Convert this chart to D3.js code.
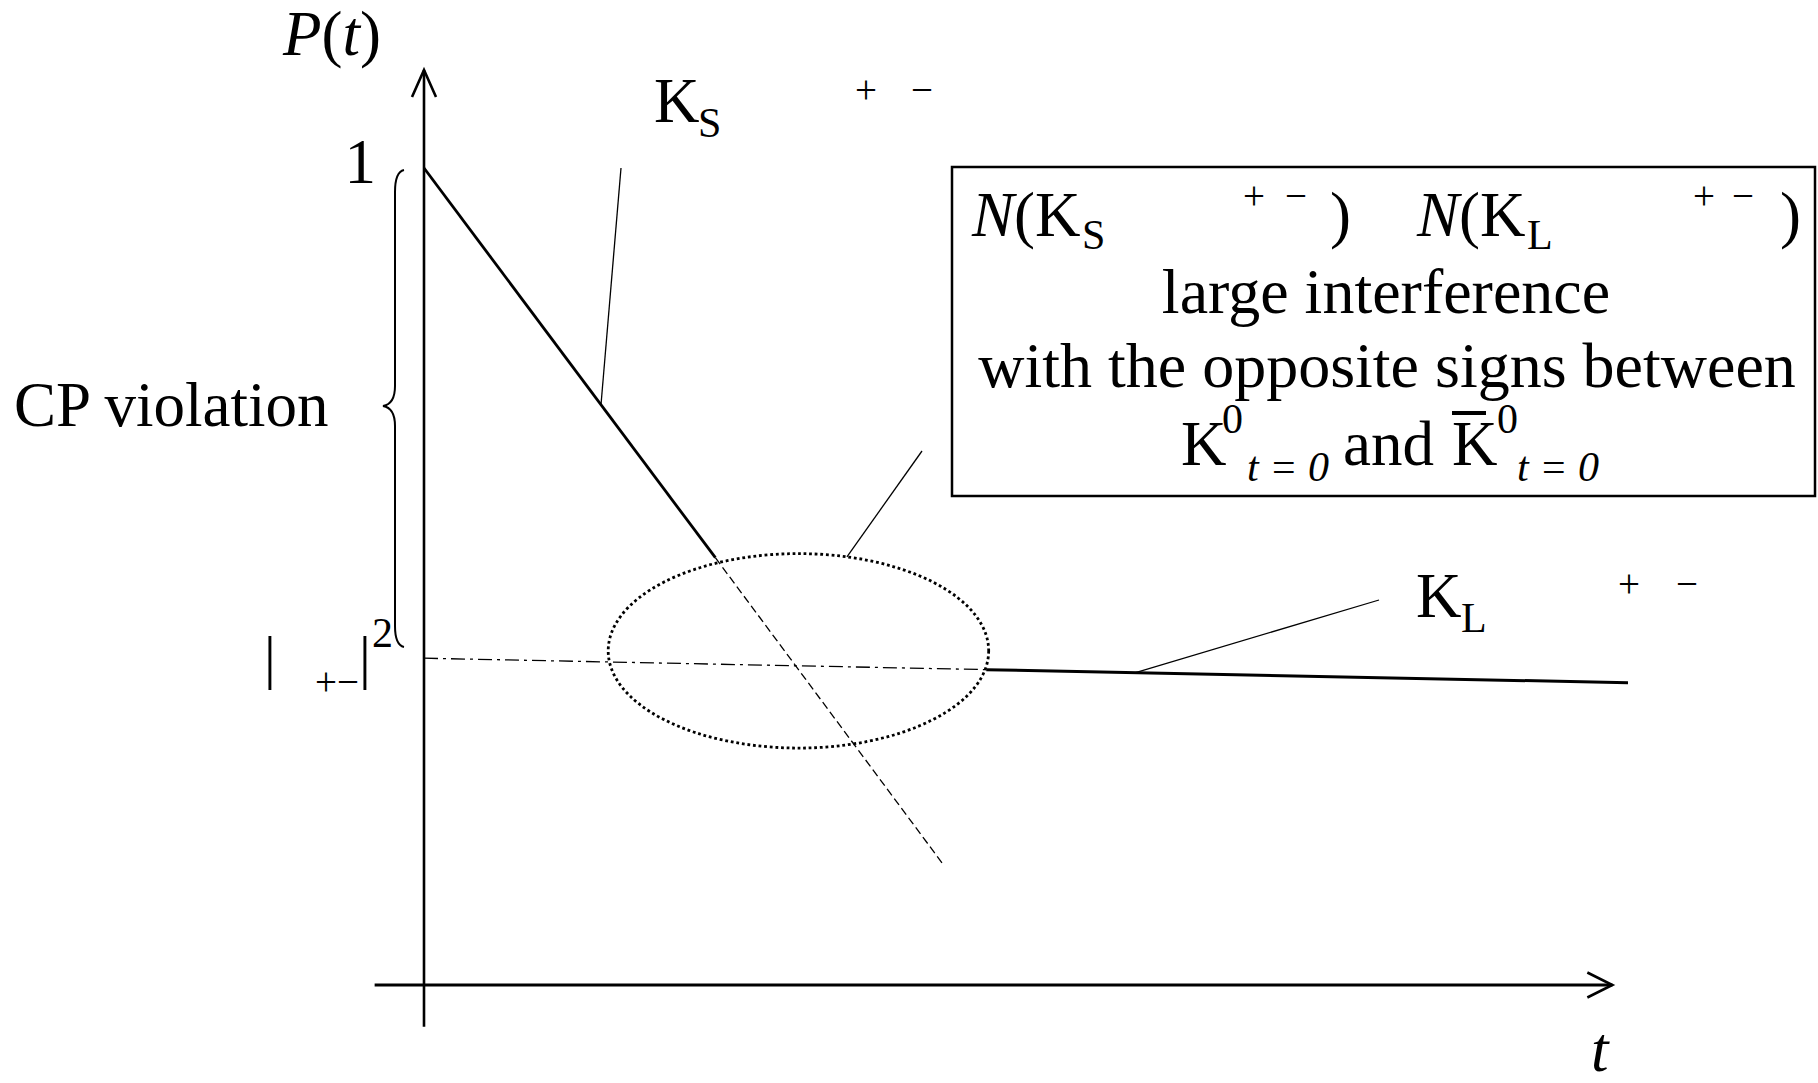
<!DOCTYPE html>
<html>
<head>
<meta charset="utf-8">
<script src="https://cdn.jsdelivr.net/npm/d3@7"></script>
<style>
  html, body { margin: 0; background: #fff; }
  svg { display: block; }
  text { font-family: "Liberation Serif", "Times New Roman", serif; fill: #000; }
</style>
</head>
<body>
<svg id="chart" width="1818" height="1083"></svg>
<script>
// K_S decay: solid while it dominates, dashed once it falls below K_L
const ksSolidT = [0, 2.42];
const ksSolidP = [1, 0.523];
const ksDashT  = [2.42, 4.31];
const ksDashP  = [0.523, 0.148];
// K_L decay: dash-dot through the interference region, solid afterwards
const klDashT  = [0, 4.67];
const klDashP  = [0.400, 0.386];
const klSolidT = [4.67, 10];
const klSolidP = [0.386, 0.370];
// tick on the P axis
const yTickValues = [1];
const yTickLabels = ["1"];
// interference region (centre and half-widths in t and P)
const interferenceCenter = [3.11, 0.409];
const interferenceRadius = [1.58, 0.119];

const svg = d3.select("#chart");
const x = d3.scaleLinear().domain([0, 10]).range([424, 1628]);
const y = d3.scaleLinear().domain([0, 1]).range([985, 168]);

const pts = (ts, ps) => ts.map((t, i) => [t, ps[i]]);
const line = d3.line().x(d => x(d[0])).y(d => y(d[1]));

// ---- axes with open arrowheads ----
const axisW = 2.6;
const xA0 = x(-0.41), xA1 = x(9.87), yA0 = y(-0.051), yA1 = y(1.12);
svg.append("line").attr("x1", xA0).attr("x2", xA1).attr("y1", y(0)).attr("y2", y(0))
  .attr("stroke", "#000").attr("stroke-width", 3);
svg.append("path").attr("d", `M${xA1 - 25},${y(0) - 12.5} L${xA1},${y(0)} L${xA1 - 25},${y(0) + 12.5}`)
  .attr("fill", "none").attr("stroke", "#000").attr("stroke-width", axisW);
svg.append("line").attr("x1", x(0)).attr("x2", x(0)).attr("y1", yA0).attr("y2", yA1)
  .attr("stroke", "#000").attr("stroke-width", axisW);
svg.append("path").attr("d", `M${x(0) - 12},${yA1 + 27} L${x(0)},${yA1} L${x(0) + 12},${yA1 + 27}`)
  .attr("fill", "none").attr("stroke", "#000").attr("stroke-width", axisW);

// ---- decay curves ----
svg.append("path").attr("d", line(pts(ksSolidT, ksSolidP)))
  .attr("fill", "none").attr("stroke", "#000").attr("stroke-width", 2.8);
svg.append("path").attr("d", line(pts(ksDashT, ksDashP)))
  .attr("fill", "none").attr("stroke", "#000").attr("stroke-width", 1.3)
  .attr("stroke-dasharray", "8,4");
svg.append("path").attr("d", line(pts(klDashT, klDashP)))
  .attr("fill", "none").attr("stroke", "#000").attr("stroke-width", 1.3)
  .attr("stroke-dasharray", "14,5,3,5");
svg.append("path").attr("d", line(pts(klSolidT, klSolidP)))
  .attr("fill", "none").attr("stroke", "#000").attr("stroke-width", 3);

// ---- interference ellipse ----
const ecx = x(interferenceCenter[0]), ecy = y(interferenceCenter[1]);
const erx = x(interferenceRadius[0]) - x(0), ery = y(0) - y(interferenceRadius[1]);
svg.append("ellipse").attr("cx", ecx).attr("cy", ecy).attr("rx", erx).attr("ry", ery)
  .attr("fill", "none").attr("stroke", "#000").attr("stroke-width", 2.8)
  .attr("stroke-dasharray", "2.8,2.8");

// ---- leader lines ----
const onLine = (ts, ps, t) => y(d3.scaleLinear().domain(ts).range(ps)(t));
const leader = (x1, y1, x2, y2) => svg.append("line")
  .attr("x1", x1).attr("y1", y1).attr("x2", x2).attr("y2", y2)
  .attr("stroke", "#000").attr("stroke-width", 1.3);
leader(621, 168, x(1.47), onLine(ksSolidT, ksSolidP, 1.47));
const ang = -Math.acos(0.255);
leader(922, 451, ecx + erx * Math.cos(ang), ecy + ery * Math.sin(ang));
leader(1379, 600, x(5.91), onLine(klSolidT, klSolidP, 5.91));

// ---- curly brace spanning P from |eta|^2 to 1 ----
svg.append("path")
  .attr("d", "M404,170 Q395,172 395,192 L395,386 Q395,404 383,406 Q395,408 395,426 L395,626 Q395,645 404,647")
  .attr("fill", "none").attr("stroke", "#000").attr("stroke-width", 2);

// ---- text helpers ----
const txt = (s, px, py, size, opts = {}) => {
  const t = svg.append("text").attr("x", px).attr("y", py).attr("font-size", size)
    .attr("text-anchor", opts.anchor || "start");
  if (opts.italic) t.attr("font-style", "italic");
  t.text(s);
  return t;
};
const big = 63, sub = 42, sign = 39;

// axis titles
const pt = svg.append("text").attr("x", 283).attr("y", 55).attr("font-size", big);
pt.append("tspan").attr("font-style", "italic").text("P");
pt.append("tspan").text("(");
pt.append("tspan").attr("font-style", "italic").text("t");
pt.append("tspan").text(")");
txt("t", 1591, 1071, big, { italic: true });

// P-axis tick labels
yTickValues.forEach((v, i) => txt(yTickLabels[i], x(0) - 48, y(v) + 15, big, { anchor: "end" }));

// |eta_{+-}|^2 marker at the K_L intercept
const etaY = y(klDashP[0]);
txt("|", 264, etaY + 19, 59);
txt("+\u2212", 315, etaY + 37, sign);
txt("|", 359, etaY + 19, 59);
txt("2", 372, etaY - 11, sub);

txt("CP violation", 14, 426, big);

// K_S label
txt("K", 654, 122, big);
txt("S", 698, 137, sub);
txt("+", 855, 103, sign);
txt("\u2212", 911, 103, sign);

// K_L label
txt("K", 1416, 617, big);
txt("L", 1461, 632, sub);
txt("+", 1618, 597, sign);
txt("\u2212", 1676, 597, sign);

// ---- explanation box ----
svg.append("rect").attr("x", 952).attr("y", 167).attr("width", 863).attr("height", 329)
  .attr("fill", "none").attr("stroke", "#000").attr("stroke-width", 2.5);

const nk = (px) => {
  const t = svg.append("text").attr("x", px).attr("y", 236).attr("font-size", big);
  t.append("tspan").attr("font-style", "italic").text("N");
  t.append("tspan").text("(K");
};
nk(972);
txt("S", 1082, 249, sub);
txt("+", 1243, 209, sign);
txt("\u2212", 1285, 209, sign);
txt(")", 1330, 236, big);
nk(1417);
txt("L", 1527, 249, sub);
txt("+", 1693, 209, sign);
txt("\u2212", 1732, 209, sign);
txt(")", 1780, 236, big);

txt("large interference", 1386, 313, 64, { anchor: "middle" });
txt("with the opposite signs between", 1387, 387, 64, { anchor: "middle" });

txt("K", 1181, 465, big);
txt("0", 1222, 433, sub);
txt("t = 0", 1247, 481, sub, { italic: true });
txt("and", 1343, 465, big);
txt("K", 1452, 465, big);
svg.append("line").attr("x1", 1452).attr("x2", 1486).attr("y1", 413).attr("y2", 413)
  .attr("stroke", "#000").attr("stroke-width", 4);
txt("0", 1497, 433, sub);
txt("t = 0", 1517, 481, sub, { italic: true });
</script>
</body>
</html>
